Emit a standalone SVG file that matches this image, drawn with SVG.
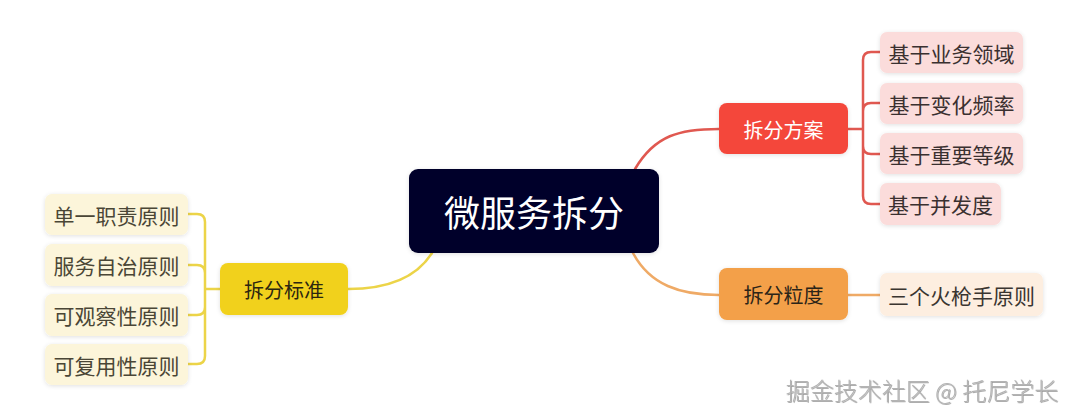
<svg xmlns="http://www.w3.org/2000/svg" width="1080" height="414" viewBox="0 0 1080 414">
<defs>
<filter id="sh" x="-20%" y="-30%" width="140%" height="160%">
<feDropShadow dx="0" dy="1" stdDeviation="2" flood-color="#000" flood-opacity="0.12"/>
</filter>
<filter id="wm" x="-5%" y="-30%" width="110%" height="160%">
<feDropShadow dx="0.8" dy="0.8" stdDeviation="0.5" flood-color="#555" flood-opacity="0.6"/>
</filter>
<style>
text{font-family:"Noto Sans CJK SC","Noto Sans",sans-serif;text-anchor:middle;dominant-baseline:central}
.c{fill:none;stroke-width:2.5;stroke-linecap:round}
.r{stroke:#e05850}.y{stroke:#ecd448}.o{stroke:#efaa66}
.leaf{font-size:21px}
.mid{font-size:20px}
</style>
</defs>
<rect width="1080" height="414" fill="#ffffff"/>
<g id="connectors">
<path class="c r" d="M635,169 C655,135 680,129 719,129"/>
<path class="c y" d="M432,253 C415,280 385,289 348,289"/>
<path class="c o" d="M633,253 C650,285 680,295 719,295"/>
<path class="c r" d="M848,129 H863 M863,129 V60 Q863,52 871,52 H880 M863,129 V111 Q863,103 871,103 H880 M863,129 V146 Q863,154 871,154 H880 M863,129 V196 Q863,204 871,204 H880"/>
<path class="c y" d="M220,289 H205 M205,289 V222 Q205,214 197,214 H188 M205,289 V273 Q205,265 197,265 H188 M205,289 V307 Q205,315 197,315 H188 M205,289 V356 Q205,364 197,364 H188"/>
<path class="c o" d="M848,295 H880"/>
</g>
<g id="root">
<rect x="409" y="169" width="250" height="84" rx="9" fill="#03042a" filter="url(#sh)"/>
<text x="534" y="211" font-size="36" fill="#ffffff">微服务拆分</text>
</g>
<g id="n-fangan">
<rect x="719" y="103" width="129" height="51" rx="8" fill="#f4473b" filter="url(#sh)"/>
<text class="mid" x="783.5" y="129" fill="#ffffff">拆分方案</text>
</g>
<g id="n-lidu">
<rect x="719" y="268" width="129" height="52" rx="8" fill="#f3a048" filter="url(#sh)"/>
<text class="mid" x="783.5" y="294" fill="#2b2418">拆分粒度</text>
</g>
<g id="n-biaozhun">
<rect x="220" y="263" width="128" height="52" rx="8" fill="#f1d11e" filter="url(#sh)"/>
<text class="mid" x="284" y="289" fill="#2b2610">拆分标准</text>
</g>
<g id="l-yewu">
<rect x="880" y="32" width="143" height="41" rx="7" fill="#fbdcdb" filter="url(#sh)"/>
<text class="leaf" x="951.5" y="52.5" fill="#3a3030">基于业务领域</text>
</g>
<g id="l-bianhua">
<rect x="880" y="83" width="143" height="41" rx="7" fill="#fbdcdb" filter="url(#sh)"/>
<text class="leaf" x="951.5" y="103.5" fill="#3a3030">基于变化频率</text>
</g>
<g id="l-zhongyao">
<rect x="880" y="133" width="143" height="41" rx="7" fill="#fbdcdb" filter="url(#sh)"/>
<text class="leaf" x="951.5" y="153.5" fill="#3a3030">基于重要等级</text>
</g>
<g id="l-bingfa">
<rect x="880" y="183" width="121" height="42" rx="7" fill="#fbdcdb" filter="url(#sh)"/>
<text class="leaf" x="940.5" y="204" fill="#3a3030">基于并发度</text>
</g>
<g id="l-huoqiang">
<rect x="880" y="273" width="163" height="43" rx="7" fill="#fdeee0" filter="url(#sh)"/>
<text class="leaf" x="961.5" y="294.5" fill="#3a3530">三个火枪手原则</text>
</g>
<g id="l-danyi">
<rect x="45" y="194" width="143" height="41" rx="7" fill="#fcf5da" filter="url(#sh)"/>
<text class="leaf" x="116.5" y="214.5" fill="#4a4636">单一职责原则</text>
</g>
<g id="l-zizhi">
<rect x="45" y="244" width="143" height="42" rx="7" fill="#fcf5da" filter="url(#sh)"/>
<text class="leaf" x="116.5" y="265" fill="#4a4636">服务自治原则</text>
</g>
<g id="l-guancha">
<rect x="45" y="294" width="143" height="42" rx="7" fill="#fcf5da" filter="url(#sh)"/>
<text class="leaf" x="116.5" y="315" fill="#4a4636">可观察性原则</text>
</g>
<g id="l-fuyong">
<rect x="45" y="344" width="143" height="41" rx="7" fill="#fcf5da" filter="url(#sh)"/>
<text class="leaf" x="116.5" y="364.5" fill="#4a4636">可复用性原则</text>
</g>
<g id="watermark">
<text x="922" y="389" font-size="24" font-weight="300" fill="#b4b4b4" filter="url(#wm)">掘金技术社区 @ 托尼学长</text>
</g>
</svg>
